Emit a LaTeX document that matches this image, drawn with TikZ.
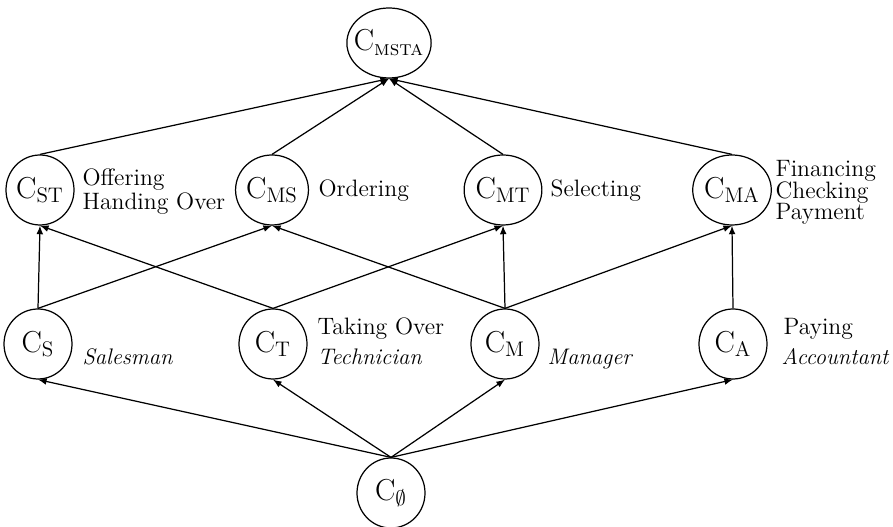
\documentclass[tikz,border=0pt]{standalone}
\usepackage{amsmath,amssymb}
\usepackage{tikz}
\usetikzlibrary{shapes.geometric}

\begin{document}
\begin{tikzpicture}[scale=1,
    concept/.style={draw, ellipse, line width=0.7pt, inner sep=0pt,
      minimum width=1.36cm, minimum height=1.4cm,
      font=\fontsize{17}{20}\selectfont},
    extent/.style={anchor=west, align=left, inner sep=0pt,
      font=\fontsize{13.5}{12}\selectfont},
    role/.style={anchor=base west, inner sep=0pt,
      font=\fontsize{12.8}{12}\selectfont\itshape},
    every path/.style={line width=0.7pt},
    >=latex]
  \useasboundingbox (0,0) rectangle (17.86,10.54);
  % concepts
  \node[concept, inner xsep=-3pt, minimum width=1.52cm]
    (msta) at (7.78,9.68) {$\mathrm{C}_{\text{\textsc{msta}}}$};
  \node[concept] (st) at (0.8,6.74) {$\mathrm{C}_{\mathrm{ST}}$};
  \node[concept] (ms) at (5.44,6.74) {$\mathrm{C}_{\mathrm{MS}}$};
  \node[concept] (mt) at (10.06,6.74) {$\mathrm{C}_{\mathrm{MT}}$};
  \node[concept] (ma) at (14.64,6.74) {$\mathrm{C}_{\mathrm{MA}}$};
  \node[concept] (s) at (0.76,3.66) {$\mathrm{C}_{\mathrm{S}}$};
  \node[concept] (t) at (5.46,3.66) {$\mathrm{C}_{\mathrm{T}}$};
  \node[concept] (m) at (10.1,3.66) {$\mathrm{C}_{\mathrm{M}}$};
  \node[concept] (a) at (14.66,3.66) {$\mathrm{C}_{\mathrm{A}}$};
  \node[concept] (e) at (7.82,0.68) {$\mathrm{C}_{\emptyset}$};
  % extents
  \node[extent] (stlab) at (1.64,6.71) {Offering\\Handing Over};
  \node[extent] (mslab) at (6.36,6.73) {Ordering};
  \node[extent] (mtlab) at (11.0,6.73) {Selecting};
  \node[extent, font=\fontsize{13.5}{12.4}\selectfont]
    (malab) at (15.5,6.69) {Financing\\Checking\\Payment};
  \node[anchor=base west, inner sep=0pt, font=\fontsize{13.5}{12}\selectfont]
    (tlab) at (6.34,3.84) {Taking Over};
  \node[anchor=base west, inner sep=0pt, font=\fontsize{13.5}{12}\selectfont]
    (alab) at (15.66,3.84) {Paying};
  \node[role] (srole) at (1.64,3.24) {Salesman};
  \node[role] (trole) at (6.34,3.24) {Technician};
  \node[role] (mrole) at (10.94,3.24) {Manager};
  \node[role] (arole) at (15.62,3.24) {Accountant};
  % order
  \draw[->]
    (st.north)
    --
    (msta.south);
  \draw[->]
    (ms.north)
    --
    (msta.south);
  \draw[->]
    (mt.north)
    --
    (msta.south);
  \draw[->]
    (ma.north)
    --
    (msta.south);
  \draw[->]
    (s.north)
    --
    (st.south);
  \draw[->]
    (s.north)
    --
    (ms.south);
  \draw[->]
    (t.north)
    --
    (st.south);
  \draw[->]
    (t.north)
    --
    (mt.south);
  \draw[->]
    (m.north)
    --
    (ms.south);
  \draw[->]
    (m.north)
    --
    (mt.south);
  \draw[->]
    (m.north)
    --
    (ma.south);
  \draw[->]
    (a.north)
    --
    (ma.south);
  \draw[->]
    (e.north)
    --
    (s.south);
  \draw[->]
    (e.north)
    --
    (t.south);
  \draw[->]
    (e.north)
    --
    (m.south);
  \draw[->]
    (e.north)
    --
    (a.south);
\end{tikzpicture}
\end{document}
